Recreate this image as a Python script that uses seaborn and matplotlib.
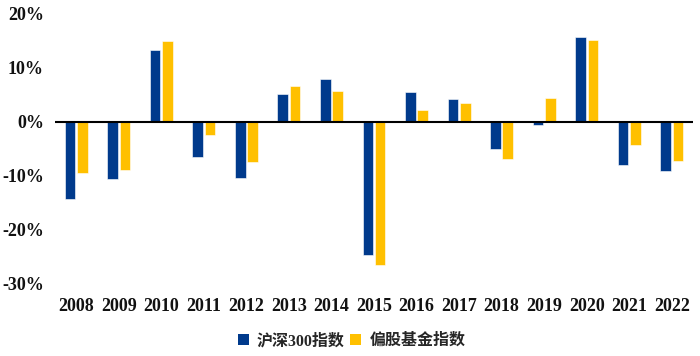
import matplotlib
matplotlib.use("Agg")
import matplotlib.pyplot as plt
import seaborn as sns
import pandas as pd
from matplotlib.ticker import FuncFormatter
from matplotlib.patches import Patch

years = ["2008", "2009", "2010", "2011", "2012", "2013", "2014", "2015",
         "2016", "2017", "2018", "2019", "2020", "2021", "2022"]
hs300 = [-14.3, -10.7, 13.3, -6.5, -10.4, 5.1, 8.0, -24.8,
         5.5, 4.2, -5.0, -0.6, 15.7, -8.0, -9.1]
fund = [-9.6, -9.0, 15.0, -2.5, -7.6, 6.7, 5.7, -26.7,
        2.2, 3.5, -6.9, 4.4, 15.2, -4.4, -7.3]
series_names = ["沪深300指数", "偏股基金指数"]
colors = ["#003A8C", "#FFC000"]
yticks = [-30, -20, -10, 0, 10, 20]

df = pd.DataFrame({
    "year": years * 2,
    "value": hs300 + fund,
    "series": [series_names[0]] * len(years) + [series_names[1]] * len(years),
})

sns.set_theme(style="white")
fonts = ["Liberation Serif", "Noto Sans CJK SC", "DejaVu Sans"]
plt.rcParams["font.family"] = fonts

fig = plt.figure(figsize=(7.0, 3.56), dpi=100)
ax = fig.add_axes([55 / 700, 1 - 283 / 356, 638 / 700, (283 - 14) / 356])

sns.barplot(data=df, x="year", y="value", hue="series", order=years,
            hue_order=series_names, palette=colors, saturation=1,
            width=0.58, gap=0.14, edgecolor="white", linewidth=0.4,
            ax=ax, legend=False)

ax.set_xlim(-0.5, len(years) - 0.5)
ax.set_ylim(-30, 20)
ax.set_yticks(yticks)
ax.yaxis.set_major_formatter(FuncFormatter(lambda v, p: f"{int(v)}%"))
ax.axhline(0, color="black", linewidth=1.5, zorder=5)
for s in ax.spines.values():
    s.set_visible(False)
ax.set_xlabel("")
ax.set_ylabel("")
ax.set_xticks(range(len(years)))
ax.set_xticklabels(years, fontsize=13, fontweight="bold", color="#111111")
ax.tick_params(axis="x", length=0, pad=11)
ax.tick_params(axis="y", length=0, pad=8)
for lab in ax.get_yticklabels():
    lab.set_fontsize(13)
    lab.set_fontweight("bold")
    lab.set_color("#111111")

handles = [Patch(facecolor=c, edgecolor="none") for c in colors]
fig.legend(handles, series_names, loc="center", bbox_to_anchor=(0.502, 1 - 341 / 356),
           ncol=2, frameon=False, handlelength=0.7, handleheight=0.7,
           handletextpad=0.5, columnspacing=0.35,
           prop={"family": fonts, "weight": "bold", "size": 11.5})

fig.savefig("out.png", dpi=100)
